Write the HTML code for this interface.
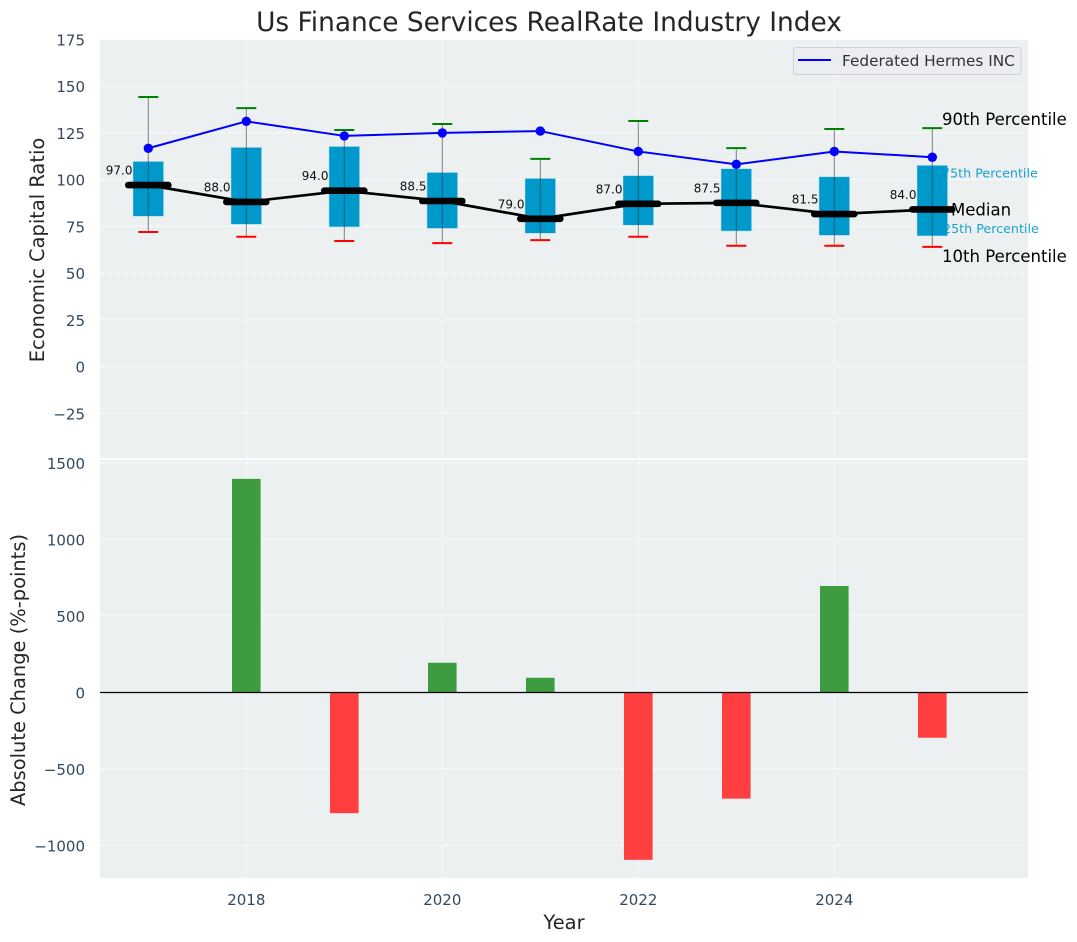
<!DOCTYPE html>
<html lang="en">
<head>
<meta charset="utf-8">
<title>Us Finance Services RealRate Industry Index</title>
<style>
html,body{margin:0;padding:0;background:#fff;width:1077px;height:942px;overflow:hidden}
svg{display:block;font-family:"DejaVu Sans","Liberation Sans",sans-serif}
</style>
</head>
<body>
<svg id="chart" xmlns="http://www.w3.org/2000/svg" width="1077" height="942" viewBox="0 0 1077 942">
  <rect x="100" y="40" width="928" height="418.5" fill="#ecf0f1"/>
  <rect x="100" y="460" width="928" height="418" fill="#ecf0f1"/>
  <text x="549" y="31" font-size="26.4" text-anchor="middle" fill="#262626">Us Finance Services RealRate Industry Index</text>
  <text transform="translate(44,250) rotate(-90)" font-size="19.45" text-anchor="middle" fill="#262626">Economic Capital Ratio</text>
  <text transform="translate(25,670) rotate(-90)" font-size="19.45" text-anchor="middle" fill="#262626">Absolute Change (%-points)</text>
  <text x="564" y="929" font-size="19.45" text-anchor="middle" fill="#262626">Year</text>
  <g id="grid"></g>
  <g id="ticks"></g>
  <g id="marks"></g>
  <g>
    <rect x="793.5" y="47.5" width="227.5" height="27" rx="3" fill="#ecedf1" stroke="#d0d2d6" stroke-width="1"/>
    <line x1="798" y1="60" x2="831" y2="60" stroke="#0000ff" stroke-width="2"/>
    <text x="842" y="66" font-size="15.3" fill="#333">Federated Hermes INC</text>
  </g>
</svg>
<script>
const years = [2017, 2018, 2019, 2020, 2021, 2022, 2023, 2024, 2025];
const p90 = [144.1, 138.2, 126.5, 129.7, 111, 131.3, 116.8, 127, 127.5];
const p75 = [109.5, 117, 117.5, 103.6, 100.4, 101.9, 105.6, 101.3, 107.4];
const median = [97, 88, 94, 88.5, 79, 87, 87.5, 81.5, 84];
const p25 = [80.5, 76.2, 74.8, 74, 71.4, 75.7, 72.6, 70.3, 70];
const p10 = [71.9, 69.4, 67.1, 66, 67.6, 69.4, 64.6, 64.6, 64];
const company = [116.7, 131.1, 123.3, 124.9, 125.9, 115, 108.1, 115, 111.9];
const absChange = [null, 1395, -790, 193, 95, -1095, -695, 695, -297];
const topTicks = [175, 150, 125, 100, 75, 50, 25, 0, -25];
const bottomTicks = [1500, 1000, 500, 0, -500, -1000];
const xTicks = [2018, 2020, 2022, 2024];

const NS = 'http://www.w3.org/2000/svg';
const xS = v => 246.3 + (v - 2018) * 98;
const yTop = v => 366.5 - v * 1.87;
const yBot = v => 692.3 - v * 0.153;
const fmt = v => String(v).replace('-', '\u2212');

function make(parent, tag, attrs, txt) {
  const el = document.createElementNS(NS, tag);
  for (const k in attrs) el.setAttribute(k, attrs[k]);
  if (txt !== undefined) el.textContent = txt;
  parent.appendChild(el);
  return el;
}

const grid = document.getElementById('grid');
const ticks = document.getElementById('ticks');
const marks = document.getElementById('marks');
const dash = {stroke: '#ffffff', 'stroke-width': 1, 'stroke-dasharray': '5.5 2.5', opacity: 0.9};

topTicks.forEach(t => {
  if (yTop(t) >= 40) {
    const l = make(grid, 'line', {x1: 100, x2: 1028, y1: yTop(t), y2: yTop(t), ...dash});
    
    
  }
  const a = make(ticks, 'text', {x: 85, y: yTop(t) + 6, 'font-size': 15, 'text-anchor': 'end', fill: '#34495e'}, fmt(t));
  
  
});
bottomTicks.forEach(t => {
  const l = make(grid, 'line', {x1: 100, x2: 1028, y1: yBot(t), y2: yBot(t), ...dash});
  
  
  const a = make(ticks, 'text', {x: 85, y: yBot(t) + 6, 'font-size': 15, 'text-anchor': 'end', fill: '#34495e'}, fmt(t));
  
  
});
xTicks.forEach(t => {
  const l1 = make(grid, 'line', {x1: xS(t), x2: xS(t), y1: 40, y2: 458.5, ...dash});
  
  
  const l2 = make(grid, 'line', {x1: xS(t), x2: xS(t), y1: 460, y2: 878, ...dash});
  
  
  const a = make(ticks, 'text', {x: xS(t), y: 905, 'font-size': 15, 'text-anchor': 'middle', fill: '#34495e'}, String(t));
  
  
});

const last = years.length - 1;
const lx = xS(years[last]);

const t75 = make(marks, 'text', {x: lx + 9.7, y: yTop(p75[last]) + 11.6, 'font-size': 12.7, fill: '#0099cc', opacity: 0.9}, '75th Percentile');


const t25 = make(marks, 'text', {x: lx + 10.7, y: yTop(p25[last]) - 2.4, 'font-size': 12.7, fill: '#0099cc', opacity: 0.9}, '25th Percentile');



years.forEach((yr, i) => {
  const x = xS(yr);
  const box = make(marks, 'rect', {x: x - 15, y: yTop(p75[i]), width: 30, height: yTop(p25[i]) - yTop(p75[i]), fill: '#0099cc', stroke: '#0099cc', 'stroke-opacity': 0.3, 'stroke-width': 1});
  
  
  const w = make(marks, 'line', {x1: x, x2: x, y1: yTop(p90[i]), y2: yTop(p10[i]), stroke: '#333', 'stroke-opacity': 0.6, 'stroke-width': 1});
  
  
  const capH = make(marks, 'line', {x1: x - 10, x2: x + 10, y1: yTop(p90[i]), y2: yTop(p90[i]), stroke: '#008000', 'stroke-width': 2});
  
  
  const capL = make(marks, 'line', {x1: x - 10, x2: x + 10, y1: yTop(p10[i]), y2: yTop(p10[i]), stroke: '#ff0000', 'stroke-width': 2});
  
  
});

const medLine = make(marks, 'polyline', {points: years.map((yr, i) => xS(yr) + ',' + yTop(median[i])).join(' '), fill: 'none', stroke: '#000', 'stroke-width': 2.7});



years.forEach((yr, i) => {
  const x = xS(yr);
  const m = make(marks, 'line', {x1: x - 20, x2: x + 20, y1: yTop(median[i]), y2: yTop(median[i]), stroke: '#000', 'stroke-width': 6.6, 'stroke-linecap': 'round'});
  
  
  const a = make(marks, 'text', {x: x - 15.8, y: yTop(median[i]) - 10.5, 'font-size': 12, 'text-anchor': 'end', fill: '#111'}, median[i].toFixed(1));
  
  
});

const coLine = make(marks, 'polyline', {points: years.map((yr, i) => xS(yr) + ',' + yTop(company[i])).join(' '), fill: 'none', stroke: '#0000ff', 'stroke-width': 2});


years.forEach((yr, i) => {
  const c = make(marks, 'circle', {cx: xS(yr), cy: yTop(company[i]), r: 4.7, fill: '#0000ff'});
  
  
});

const t90 = make(marks, 'text', {x: lx + 9.7, y: yTop(p90[last]) - 3.3, 'font-size': 16.55, fill: '#000'}, '90th Percentile');


const tMed = make(marks, 'text', {x: lx + 18.7, y: yTop(median[last]) + 6, 'font-size': 16.55, fill: '#000'}, 'Median');


const t10 = make(marks, 'text', {x: lx + 9.7, y: yTop(p10[last]) + 15, 'font-size': 16.55, fill: '#000'}, '10th Percentile');



years.forEach((yr, i) => {
  const v = absChange[i];
  if (v === null) return;
  const top = Math.min(yBot(v), yBot(0));
  const b = make(marks, 'rect', {x: xS(yr) - 14.3, y: top, width: 28.6, height: Math.abs(yBot(v) - yBot(0)), fill: v >= 0 ? '#3c9c3f' : '#ff3f3f'});
  
  
});

const zero = make(marks, 'line', {x1: 100, x2: 1028, y1: yBot(0) + 0.2, y2: yBot(0) + 0.2, stroke: '#000', 'stroke-width': 1.2});


</script>
</body>
</html>
